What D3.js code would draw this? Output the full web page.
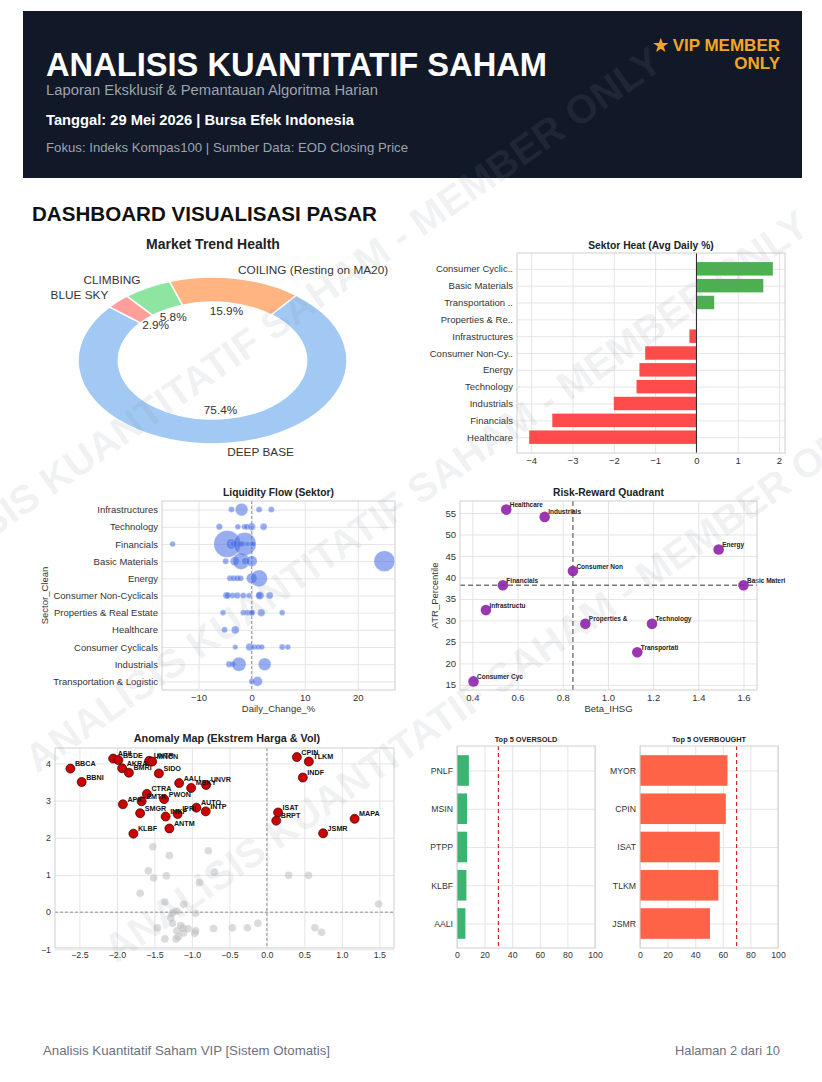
<!DOCTYPE html>
<html>
<head>
<meta charset="utf-8">
<script src="https://cdn.jsdelivr.net/npm/d3@7"></script>
<style>
  body { margin: 0; background: #fff; }
  svg { display: block; }
</style>
</head>
<body>
<svg id="page" width="822" height="1082"></svg>
<script>
// ---------- data ----------
const trendLabels = ["DEEP BASE", "COILING (Resting on MA20)", "CLIMBING", "BLUE SKY"];
const trendPct = [75.4, 15.9, 5.8, 2.9];
const trendColors = ["#a1c9f4", "#ffb482", "#8de5a1", "#ff9f9b"];

const heatSectors = ["Consumer Cyclic..", "Basic Materials", "Transportation ..", "Properties & Re..",
  "Infrastructures", "Consumer Non-Cy..", "Energy", "Technology", "Industrials", "Financials", "Healthcare"];
const heatAvg = [1.85, 1.62, 0.43, 0.0, -0.17, -1.24, -1.38, -1.45, -2.0, -3.49, -4.05];

const flowSectors = ["Infrastructures", "Technology", "Financials", "Basic Materials", "Energy",
  "Consumer Non-Cyclicals", "Properties & Real Estate", "Healthcare", "Consumer Cyclicals",
  "Industrials", "Transportation & Logistic"];
const flowChange = [
  [-3.8, -1.9, 1.4, 3.7],
  [-6.1, -2.6, -1.4, -0.9, 0.0, 2.25],
  [-14.9, -4.6, -3.8, -3.4, -2.2, -1.7, -1.3, -0.8, -0.05, 0.3],
  [-4.9, -3.2, -2.0, -1.2, 0.0, 25.0],
  [-4.1, -3.4, -2.7, -2.1, 0.0, 1.4],
  [-4.75, -4.5, -3.6, -2.7, -1.6, -0.5, 1.4, 1.55, 3.4],
  [-5.4, -1.6, -0.8, -0.05, 0.1, 1.8, 5.75],
  [-5.1, -3.1],
  [-3.1, -0.4, 0.45, 1.2, 1.9, 5.75, 6.8],
  [-4.25, -3.6, -2.4, 2.45],
  [0.0, 1.1]
];
const flowTurnover = [
  [9, 40, 9, 9],
  [10, 8, 8, 9, 14, 12],
  [8, 180, 30, 12, 8, 7, 130, 7, 7, 7],
  [9, 20, 70, 14, 30, 110],
  [9, 9, 9, 9, 28, 70],
  [12, 10, 9, 10, 9, 8, 10, 16, 12],
  [8, 8, 8, 9, 8, 14, 8],
  [9, 15],
  [7, 14, 8, 8, 8, 9, 8],
  [10, 8, 50, 40],
  [8, 24]
];

const rrSectors = ["Healthcare", "Industrials", "Energy", "Consumer Non-Cyclicals", "Financials",
  "Basic Materials", "Infrastructures", "Properties & Real Estate", "Technology",
  "Transportation & Logistic", "Consumer Cyclicals"];
const rrBeta = [0.55, 0.72, 1.49, 0.845, 0.535, 1.60, 0.46, 0.90, 1.195, 1.13, 0.405];
const rrAtr = [55.8, 54.1, 46.5, 41.5, 38.2, 38.2, 32.4, 29.2, 29.2, 22.6, 15.8];

const anomTickers = ["BBCA", "BBNI", "ASII", "BSDE", "AKRA", "BMRI", "UNTR", "MNCN", "SIDO", "AALI",
  "MSKY", "UNVR", "CTRA", "EMTK", "PWON", "APIC", "SMGR", "INKP", "IPRI", "AUTO", "INTP", "ANTM",
  "KLBF", "CPIN", "TLKM", "INDF", "ISAT", "BRPT", "MAPA", "JSMR"];
const anomPrice = [-2.62, -2.47, -2.05, -1.98, -1.93, -1.84, -1.57, -1.53, -1.44, -1.17,
  -1.01, -0.81, -1.60, -1.67, -1.37, -1.92, -1.69, -1.35, -1.19, -0.94, -0.815, -1.30,
  -1.78, 0.40, 0.56, 0.48, 0.15, 0.125, 1.17, 0.75];
const anomVol = [3.86, 3.50, 4.13, 4.09, 3.87, 3.75, 4.07, 4.05, 3.73, 3.47,
  3.34, 3.42, 3.18, 2.98, 3.04, 2.90, 2.66, 2.57, 2.64, 2.81, 2.71, 2.25,
  2.11, 4.17, 4.05, 3.62, 2.68, 2.46, 2.51, 2.12];
const calmPrice = [-1.52, -1.30, -0.78, -1.58, -1.51, -1.34, -0.70, -0.90, -1.69, -1.36, -1.11,
  -1.26, -1.20, -0.95, -1.28, -1.26, -1.46, -1.20, -1.15, -1.12, -1.05, -1.11, -0.95, -0.96,
  -1.21, -1.36, -1.18, -0.71, -0.46, -0.26, -0.12, 0.29, 0.555, 0.64, 0.73, 1.49];
const calmVol = [1.76, 1.52, 1.65, 1.11, 0.92, 0.98, 1.08, 0.79, 0.51, 0.27, 0.21,
  -0.02, 0.03, -0.03, -0.16, -0.30, -0.42, -0.50, -0.36, -0.43, -0.45, -0.56, -0.50, -0.57,
  -0.72, -0.72, -0.66, -0.44, -0.42, -0.42, -0.30, 0.99, 0.99, -0.42, -0.54, 0.22];

const soldTickers = ["PNLF", "MSIN", "PTPP", "KLBF", "AALI"];
const soldRsi = [8.6, 7.3, 7.3, 6.8, 6.1];
const boughtTickers = ["MYOR", "CPIN", "ISAT", "TLKM", "JSMR"];
const boughtRsi = [63.4, 62.2, 57.8, 56.8, 50.7];

// ---------- helpers ----------
const FONT = '"Liberation Sans", Arial, Helvetica, sans-serif';
const svg = d3.select("#page").attr("font-family", FONT);

function txt(g, x, y, s, o = {}) {
  const t = g.append("text").attr("x", x).attr("y", y).text(s)
    .attr("font-size", o.size || 9.5)
    .attr("font-weight", o.weight || 400)
    .attr("fill", o.fill || "#333")
    .attr("text-anchor", o.anchor || "start");
  if (o.len) t.attr("textLength", o.len).attr("lengthAdjust", "spacingAndGlyphs");
  return t;
}

function styleAxis(ax, size) {
  ax.attr("font-family", FONT).attr("font-size", size);
  ax.select(".domain").remove();
  ax.selectAll(".tick line").attr("stroke", "#e2e2e2").attr("stroke-width", 0.9);
  ax.selectAll(".tick text").attr("fill", "#333");
}
function gridX(g, sc, b, ticks, fmt, size) {
  const ax = g.append("g").attr("transform", `translate(0,${b.y1})`)
    .call(d3.axisBottom(sc).tickValues(ticks).tickFormat(fmt).tickSize(-(b.y1 - b.y0)).tickPadding(4));
  styleAxis(ax, size);
}
function gridY(g, sc, b, ticks, fmt, size) {
  const ax = g.append("g").attr("transform", `translate(${b.x0},0)`)
    .call(d3.axisLeft(sc).tickValues(ticks).tickFormat(fmt).tickSize(-(b.x1 - b.x0)).tickPadding(4));
  styleAxis(ax, size);
}
function spines(g, b) {
  g.append("rect").attr("x", b.x0).attr("y", b.y0).attr("width", b.x1 - b.x0).attr("height", b.y1 - b.y0)
    .attr("fill", "none").attr("stroke", "#cfcfcf").attr("stroke-width", 1);
}
function pad5(ext) {
  const s = ext[1] - ext[0];
  return [ext[0] - 0.05 * s, ext[1] + 0.05 * s];
}
const idx = n => d3.range(n);

// ---------- header ----------
svg.append("rect").attr("x", 23).attr("y", 11).attr("width", 779).attr("height", 167).attr("fill", "#111827");
txt(svg, 46, 76, "ANALISIS KUANTITATIF SAHAM", { size: 32.5, weight: 700, fill: "#fff", len: 501 });
txt(svg, 46, 95, "Laporan Eksklusif & Pemantauan Algoritma Harian", { size: 14, fill: "#9ca3af", len: 332 });
txt(svg, 46, 125, "Tanggal: 29 Mei 2026 | Bursa Efek Indonesia", { size: 14.5, weight: 700, fill: "#fff", len: 308 });
txt(svg, 46, 152, "Fokus: Indeks Kompas100 | Sumber Data: EOD Closing Price", { size: 13, fill: "#9ca3af", len: 362 });
txt(svg, 780, 51, "★ VIP MEMBER", { size: 17, weight: 700, fill: "#f5a524", anchor: "end" });
txt(svg, 780, 69, "ONLY", { size: 17, weight: 700, fill: "#f5a524", anchor: "end" });

txt(svg, 32, 221, "DASHBOARD VISUALISASI PASAR", { size: 20.5, weight: 700, fill: "#111", len: 345 });

// ---------- donut: Market Trend Health ----------
{
  const cx = 212.5, cy = 360.5, rx = 134.5, ry = 83.5;
  txt(svg, 213, 249, "Market Trend Health", { size: 14, weight: 700, fill: "#222", anchor: "middle" });
  const pie = d3.pie().sort(null)
    .startAngle((90 - 140) * Math.PI / 180)
    .endAngle((90 - 140 - 360) * Math.PI / 180);
  const arcs = pie(trendPct);
  const arc = d3.arc().innerRadius(rx * 0.7).outerRadius(rx);
  const g = svg.append("g").attr("transform", `translate(${cx},${cy}) scale(1,${ry / rx})`);
  g.selectAll("path").data(arcs).join("path")
    .attr("d", arc)
    .attr("fill", (d, i) => trendColors[i])
    .attr("stroke", "#fff").attr("stroke-width", 1.5)
    .attr("vector-effect", "non-scaling-stroke");
  arcs.forEach((d, i) => {
    const a = (d.startAngle + d.endAngle) / 2;
    const s = Math.sin(a), c = Math.cos(a);
    txt(svg, cx + 1.1 * rx * s, cy - 1.1 * ry * c + 4, trendLabels[i],
      { size: 11.8, fill: "#333", anchor: s > 0 ? "start" : "end" });
    txt(svg, cx + 0.6 * rx * s, cy - 0.6 * ry * c + 4, trendPct[i].toFixed(1) + "%",
      { size: 11.8, fill: "#333", anchor: "middle" });
  });
}

// ---------- Sektor Heat ----------
{
  const b = { x0: 517, x1: 785, y0: 253, y1: 453 };
  const g = svg.append("g");
  const x = d3.scaleLinear().domain(pad5(d3.extent(heatAvg.concat([0])))).range([b.x0, b.x1]);
  const y = d3.scaleLinear().domain([-0.94, heatSectors.length - 1 + 0.94]).range([b.y0, b.y1]);
  gridX(g, x, b, d3.range(-4, 3), d3.format("d"), 9.5);
  gridY(g, y, b, idx(heatSectors.length), i => heatSectors[i], 9.5);
  g.selectAll("rect.bar").data(heatAvg).join("rect").attr("class", "bar")
    .attr("x", v => x(Math.min(0, v)))
    .attr("width", v => Math.abs(x(v) - x(0)))
    .attr("y", (v, i) => y(i - 0.4))
    .attr("height", y(0.8) - y(0))
    .attr("fill", v => v >= 0 ? "#4caf50" : "#ff4b4b");
  g.append("line").attr("x1", x(0)).attr("x2", x(0)).attr("y1", b.y0).attr("y2", b.y1)
    .attr("stroke", "#222").attr("stroke-width", 1);
  spines(g, b);
  txt(svg, (b.x0 + b.x1) / 2, 249, "Sektor Heat (Avg Daily %)", { size: 10.3, weight: 700, fill: "#222", anchor: "middle" });
}

// ---------- Liquidity Flow ----------
{
  const b = { x0: 162, x1: 395, y0: 501, y1: 690 };
  const g = svg.append("g");
  const x = d3.scaleLinear().domain(pad5(d3.extent(flowChange.flat()))).range([b.x0, b.x1]);
  const y = d3.scaleLinear().domain([-0.5, flowSectors.length - 0.5]).range([b.y0, b.y1]);
  const r = d3.scaleSqrt().domain([0, 180]).range([0, 13.4]);
  gridX(g, x, b, [-10, 0, 10, 20], d3.format("d"), 9.5);
  gridY(g, y, b, idx(flowSectors.length), i => flowSectors[i], 9.5);
  g.append("line").attr("x1", x(0)).attr("x2", x(0)).attr("y1", b.y0).attr("y2", b.y1)
    .attr("stroke", "#888").attr("stroke-width", 0.9).attr("stroke-dasharray", "3,2");
  flowChange.forEach((row, i) => {
    row.forEach((v, j) => {
      g.append("circle").attr("cx", x(v)).attr("cy", y(i)).attr("r", r(flowTurnover[i][j]))
        .attr("fill", "#4169e1").attr("fill-opacity", 0.55)
        .attr("stroke", "#fff").attr("stroke-width", 0.4).attr("stroke-opacity", 0.6);
    });
  });
  spines(g, b);
  txt(svg, (b.x0 + b.x1) / 2, 496, "Liquidity Flow (Sektor)", { size: 10.3, weight: 700, fill: "#222", anchor: "middle" });
  txt(svg, (b.x0 + b.x1) / 2, 712, "Daily_Change_%", { size: 9.5, fill: "#333", anchor: "middle" });
  txt(svg, 0, 0, "Sector_Clean", { size: 9.5, fill: "#333", anchor: "middle" })
    .attr("transform", `translate(48,${(b.y0 + b.y1) / 2}) rotate(-90)`);
}

// ---------- Risk-Reward Quadrant ----------
{
  const b = { x0: 460, x1: 757, y0: 501, y1: 690 };
  const g = svg.append("g");
  const x = d3.scaleLinear().domain(pad5(d3.extent(rrBeta))).range([b.x0, b.x1]);
  const y = d3.scaleLinear().domain(pad5(d3.extent(rrAtr))).range([b.y1, b.y0]);
  gridX(g, x, b, [0.4, 0.6, 0.8, 1.0, 1.2, 1.4, 1.6], d3.format(".1f"), 9.5);
  gridY(g, y, b, d3.range(15, 56, 5), d3.format("d"), 9.5);
  const mx = d3.median(rrBeta), my = d3.median(rrAtr);
  g.append("line").attr("x1", x(mx)).attr("x2", x(mx)).attr("y1", b.y0).attr("y2", b.y1)
    .attr("stroke", "#777").attr("stroke-width", 1.4).attr("stroke-dasharray", "5,3");
  g.append("line").attr("x1", b.x0).attr("x2", b.x1).attr("y1", y(my)).attr("y2", y(my))
    .attr("stroke", "#777").attr("stroke-width", 1.4).attr("stroke-dasharray", "5,3");
  rrBeta.forEach((v, i) => {
    g.append("circle").attr("cx", x(v)).attr("cy", y(rrAtr[i])).attr("r", 5.3)
      .attr("fill", "#8e24aa").attr("fill-opacity", 0.9);
    txt(g, x(v) + 3.5, y(rrAtr[i]) - 2.5, rrSectors[i].slice(0, 12), { size: 6.5, weight: 700, fill: "#222" });
  });
  spines(g, b);
  txt(svg, (b.x0 + b.x1) / 2, 496, "Risk-Reward Quadrant", { size: 10.3, weight: 700, fill: "#222", anchor: "middle" });
  txt(svg, (b.x0 + b.x1) / 2, 712, "Beta_IHSG", { size: 9.5, fill: "#333", anchor: "middle" });
  txt(svg, 0, 0, "ATR_Percentile", { size: 9.5, fill: "#333", anchor: "middle" })
    .attr("transform", `translate(438,${(b.y0 + b.y1) / 2}) rotate(-90)`);
}

// ---------- Anomaly Map ----------
{
  const b = { x0: 55, x1: 394, y0: 748, y1: 948 };
  const g = svg.append("g");
  const x = d3.scaleLinear().domain(pad5(d3.extent(anomPrice.concat(calmPrice)))).range([b.x0, b.x1]);
  const y = d3.scaleLinear().domain(pad5(d3.extent(anomVol.concat(calmVol)))).range([b.y1, b.y0]);
  gridX(g, x, b, [-2.5, -2, -1.5, -1, -0.5, 0, 0.5, 1, 1.5], d3.format(".1f"), 8.8);
  gridY(g, y, b, [-1, 0, 1, 2, 3, 4], d3.format("d"), 8.8);
  g.append("line").attr("x1", x(0)).attr("x2", x(0)).attr("y1", b.y0).attr("y2", b.y1)
    .attr("stroke", "#888").attr("stroke-width", 0.9).attr("stroke-dasharray", "3,2");
  g.append("line").attr("x1", b.x0).attr("x2", b.x1).attr("y1", y(0)).attr("y2", y(0))
    .attr("stroke", "#888").attr("stroke-width", 0.9).attr("stroke-dasharray", "3,2");
  calmPrice.forEach((v, i) => {
    g.append("circle").attr("cx", x(v)).attr("cy", y(calmVol[i])).attr("r", 3.8)
      .attr("fill", "#bdbdbd").attr("fill-opacity", 0.55);
  });
  anomPrice.forEach((v, i) => {
    g.append("circle").attr("cx", x(v)).attr("cy", y(anomVol[i])).attr("r", 4.5)
      .attr("fill", "#cc0000").attr("stroke", "#300").attr("stroke-width", 0.7);
  });
  anomPrice.forEach((v, i) => {
    txt(g, x(v) + 4.5, y(anomVol[i]) - 2.5, anomTickers[i], { size: 7.2, weight: 700, fill: "#111" });
  });
  spines(g, b);
  txt(svg, 227, 742, "Anomaly Map (Ekstrem Harga & Vol)", { size: 10.8, weight: 700, fill: "#222", anchor: "middle" });
}

// ---------- Top 5 oversold / overbought ----------
function topPanel(b, names, vals, color, limit, title) {
  const g = svg.append("g");
  const x = d3.scaleLinear().domain([0, 100]).range([b.x0, b.x1]);
  const y = d3.scaleLinear().domain([-0.64, names.length - 1 + 0.64]).range([b.y0, b.y1]);
  gridX(g, x, b, d3.range(0, 101, 20), d3.format("d"), 8.7);
  gridY(g, y, b, idx(names.length), i => names[i], 8.7);
  g.selectAll("rect.bar").data(vals).join("rect").attr("class", "bar")
    .attr("x", x(0)).attr("width", v => x(v) - x(0))
    .attr("y", (v, i) => y(i - 0.4)).attr("height", y(0.8) - y(0))
    .attr("fill", color);
  g.append("line").attr("x1", x(limit)).attr("x2", x(limit)).attr("y1", b.y0).attr("y2", b.y1)
    .attr("stroke", "#d62728").attr("stroke-width", 1.2).attr("stroke-dasharray", "4,3");
  spines(g, b);
  txt(svg, (b.x0 + b.x1) / 2, 742, title, { size: 7.4, weight: 700, fill: "#222", anchor: "middle" });
}
topPanel({ x0: 457, x1: 595, y0: 746, y1: 948 }, soldTickers, soldRsi, "#3cb371", 30, "Top 5 OVERSOLD");
topPanel({ x0: 640, x1: 778, y0: 746, y1: 948 }, boughtTickers, boughtRsi, "#ff6347", 70, "Top 5 OVERBOUGHT");

// ---------- footer ----------
txt(svg, 43, 1055, "Analisis Kuantitatif Saham VIP [Sistem Otomatis]", { size: 13, fill: "#6b7280", len: 287 });
txt(svg, 780, 1055, "Halaman 2 dari 10", { size: 13, fill: "#6b7280", anchor: "end", len: 105 });

// ---------- watermark ----------
const wm = svg.append("g").attr("pointer-events", "none");
[[-110, 610], [37, 774], [116, 964]].forEach(([wx, wy]) => {
  wm.append("text").attr("transform", `translate(${wx},${wy}) rotate(-35)`)
    .text("ANALISIS KUANTITATIF SAHAM - MEMBER ONLY")
    .attr("font-size", 40).attr("font-weight", 700)
    .attr("fill", "#8a8f99").attr("fill-opacity", 0.12);
});
</script>
</body>
</html>
